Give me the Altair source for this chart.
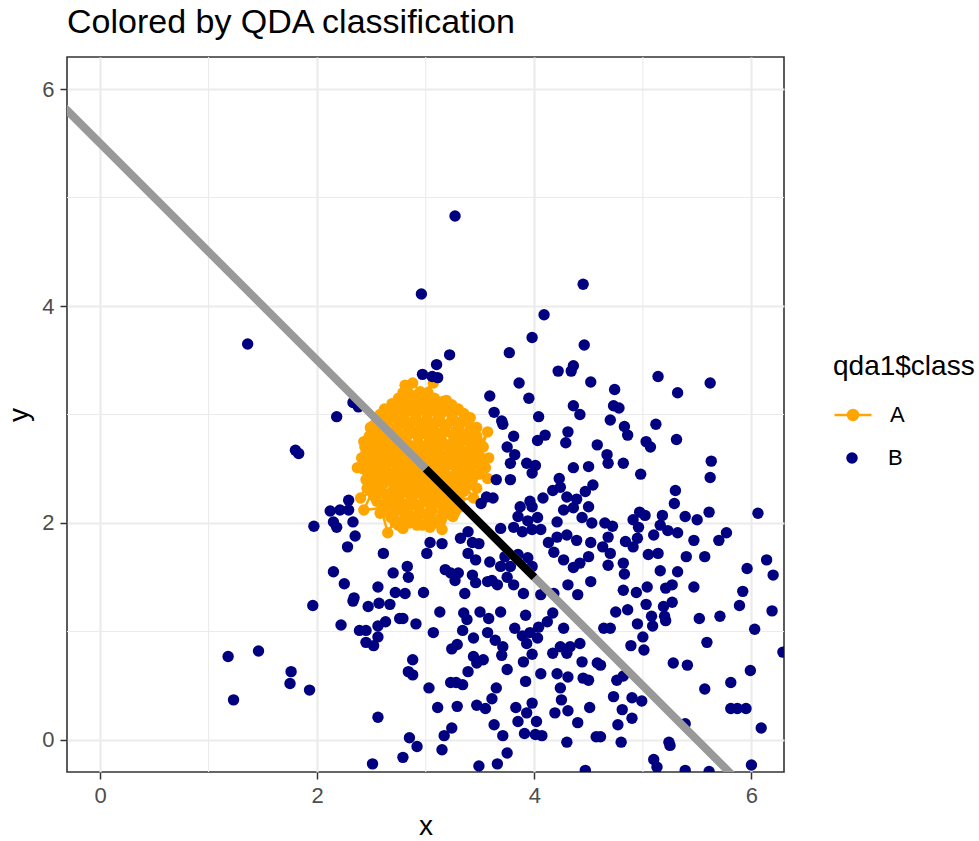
import altair as alt
import pandas as pd

# ---- class B points (navy) ----
navy_x = [1.36, 2.96, 3.27, 4.45, 4.09, 1.80, 1.83, 1.18, 1.46, 1.23, 1.76, 1.75, 1.93, 1.96, 1.97,
          2.18, 2.33, 2.38, 2.51, 2.56, 2.22, 2.39, 2.45, 2.45, 2.52, 2.56, 2.56, 2.63, 2.33, 2.47,
          2.57, 2.67, 2.76, 2.29, 2.12, 2.21, 2.29, 2.15, 2.18, 2.33, 2.35, 2.28, 2.61, 2.15, 2.25,
          2.56, 2.70, 2.72, 2.34, 3.98, 4.46, 3.77, 3.22, 3.10, 2.97, 3.06, 3.11, 4.22, 4.34, 4.36,
          4.52, 3.86, 3.59, 3.95, 4.74, 5.14, 5.32, 5.62,
          # middle region
          3.63, 3.70, 3.71, 4.04, 4.36, 4.42, 3.81, 3.75, 4.03, 4.10, 4.31, 4.29, 4.58, 3.82, 3.78,
          3.93, 4.01, 3.98, 4.36, 4.50, 4.23, 3.78, 3.65, 3.56, 3.62, 3.51, 4.17, 4.24, 4.30, 4.39,
          4.47, 4.54, 4.08, 3.96, 3.87, 3.98, 4.27, 4.36, 4.50, 3.85, 4.03, 3.94, 4.21, 4.44, 4.53,
          3.69, 3.81, 3.89, 3.98, 4.06, 4.13, 4.21, 4.30, 4.39, 4.52, 3.39, 3.43, 3.49, 3.32, 3.04,
          3.15, 3.01, 3.39, 3.46, 3.59, 3.73, 3.85, 3.94, 3.78, 4.18, 4.27, 4.36, 4.42, 4.50, 4.52,
          4.31, 2.83, 2.84, 3.18, 3.23, 3.30, 3.27, 3.43, 3.46, 3.57, 3.61, 3.69, 3.66, 3.75, 3.81,
          3.90, 3.36, 2.98, 2.81, 4.06, 4.18, 4.40, 3.98,
          # right-middle region
          4.73, 4.78, 4.70, 4.83, 4.86, 5.12, 5.03, 5.07, 5.31, 4.67, 4.68, 4.82, 4.98, 5.63, 5.62,
          5.30, 5.29, 4.97, 5.02, 5.18, 5.39, 5.50, 5.61, 6.06, 4.65, 4.72, 4.91, 4.96, 5.16, 5.23,
          5.32, 5.10, 5.77, 5.70, 5.47, 4.68, 4.84, 4.95, 4.91, 4.63, 4.70, 5.05, 5.14, 5.40, 5.57,
          4.68, 4.82, 4.83, 5.16, 5.32, 5.96, 6.14, 6.20, 4.82, 4.94, 5.04, 5.21, 5.27, 5.47, 5.92,
          # lower-middle region
          2.79, 2.91, 3.13, 3.07, 3.35, 3.38, 3.34, 3.50, 3.58, 3.69, 3.44, 3.57, 3.64, 3.71, 3.70,
          3.24, 3.29, 3.44, 3.53, 3.47, 3.92, 3.82, 3.89, 3.96, 4.03, 3.93, 4.04, 4.12, 4.17, 4.27,
          4.24, 4.33, 4.42, 4.30, 4.17, 3.98, 3.90, 4.44, 4.58, 2.88, 2.84, 2.88, 3.03, 3.11, 3.23,
          3.28, 3.34, 3.39, 3.29, 3.47, 3.55, 3.65, 3.61, 3.75, 3.92, 4.06, 4.21, 4.31, 4.24, 4.25,
          4.45, 4.50, 3.83, 3.98, 3.93, 4.02, 3.85, 4.19, 4.31, 4.40, 4.51, 3.63, 3.91, 4.01, 4.07,
          3.71, 3.24, 3.17, 2.85, 2.92, 3.15, 4.30, 4.57, 3.75, 2.79, 3.49, 3.66, 4.47,
          # lower-right region
          5.89, 6.19, 4.75, 4.86, 5.03, 5.19, 5.27, 5.08, 5.20, 5.21, 5.52, 5.71, 6.03, 4.64, 4.70,
          4.95, 5.09, 5.00, 4.89, 5.01, 5.59, 6.29, 5.28, 5.41, 4.61, 5.99, 5.81, 5.57, 4.76, 4.82,
          4.73, 4.90, 4.99, 4.81, 4.90, 4.77, 5.81, 5.87, 5.95, 6.09, 5.39, 4.61, 4.80, 5.24, 5.25,
          5.10, 5.13, 5.39, 5.61, 6.00]
navy_y = [3.65, 4.11, 4.83, 4.20, 3.92, 2.67, 2.64, 0.77, 0.82, 0.37, 0.63, 0.52, 0.46, 1.24, 1.97,
          2.98, 3.11, 3.07, -0.22, 0.21, 1.06, 1.01, 1.01, 0.90, 0.87, 0.95, 1.05, 1.09, 1.28, 1.23,
          1.26, 1.25, 1.12, 2.21, 2.11, 2.12, 2.12, 2.01, 1.96, 2.01, 1.88, 1.78, 1.72, 1.55, 1.44,
          1.41, 1.54, 1.36, 1.31, 3.71, 3.64, 3.57, 3.55, 3.46, 3.37, 3.35, 3.34, 3.40, 3.40, 3.45,
          3.30, 3.29, 3.17, 3.15, 3.23, 3.35, 3.20, 3.29,
          # middle region
          3.02, 2.94, 2.91, 2.98, 3.08, 3.00, 2.80, 2.70, 2.76, 2.81, 2.84, 2.74, 2.72, 2.63, 2.55,
          2.55, 2.53, 2.46, 2.51, 2.52, 2.41, 2.40, 2.40, 2.24, 2.23, 2.18, 2.30, 2.33, 2.24, 2.22,
          2.29, 2.35, 2.23, 2.20, 2.15, 2.15, 2.12, 2.14, 2.15, 2.06, 2.05, 2.02, 2.01, 2.05, 2.00,
          1.95, 1.96, 1.92, 1.94, 1.94, 1.82, 1.87, 1.89, 1.84, 1.82, 1.92, 1.82, 1.81, 1.86, 1.82,
          1.81, 1.72, 1.72, 1.66, 1.64, 1.69, 1.71, 1.68, 1.60, 1.73, 1.66, 1.59, 1.63, 1.69, 1.46,
          1.43, 1.60, 1.50, 1.57, 1.54, 1.54, 1.47, 1.52, 1.45, 1.46, 1.47, 1.60, 1.43, 1.50, 1.43,
          1.35, 1.35, 1.36, 1.35, 1.34, 1.35, 1.34, 1.60,
          # right-middle region
          3.08, 3.06, 2.95, 2.89, 2.81, 2.91, 2.75, 2.70, 2.77, 2.63, 2.55, 2.55, 2.45, 2.57, 2.42,
          2.30, 2.18, 2.10, 2.07, 2.07, 2.06, 2.03, 2.10, 2.09, 2.00, 1.97, 2.03, 1.96, 1.98, 1.93,
          1.91, 1.89, 1.91, 1.84, 1.84, 1.87, 1.83, 1.86, 1.78, 1.78, 1.72, 1.71, 1.72, 1.69, 1.69,
          1.61, 1.63, 1.53, 1.56, 1.55, 1.58, 1.66, 1.52, 1.38, 1.36, 1.41, 1.40, 1.43, 1.41, 1.37,
          # lower-middle region
          1.12, 1.07, 1.18, 0.99, 1.17, 1.11, 1.01, 1.18, 1.12, 1.18, 0.94, 0.99, 0.92, 0.86, 0.78,
          0.84, 0.88, 0.77, 0.74, 0.71, 1.15, 1.03, 0.96, 0.99, 0.94, 0.89, 1.04, 1.09, 1.17, 1.03,
          0.86, 0.86, 0.89, 0.80, 0.80, 0.79, 0.72, 0.72, 0.71, 0.74, 0.63, 0.60, 0.48, 0.30, 0.53,
          0.53, 0.51, 0.63, 0.31, 0.32, 0.29, 0.48, 0.38, 0.65, 0.54, 0.61, 0.61, 0.58, 0.48, 0.37,
          0.57, 0.55, 0.30, 0.34, 0.25, 0.17, 0.17, 0.25, 0.27, 0.16, 0.30, 0.14, 0.06, 0.05, 0.04,
          0.04, 0.11, 0.04, 0.02, -0.06, -0.09, -0.02, 0.03, -0.12, -0.16, -0.24, -0.22, -0.28,
          # lower-right region
          1.24, 1.19, 1.18, 1.20, 1.25, 1.23, 1.27, 1.14, 1.14, 1.10, 1.12, 1.14, 1.02, 1.03, 1.03,
          1.07, 1.05, 0.95, 0.87, 0.83, 0.90, 0.81, 0.71, 0.69, 0.69, 0.64, 0.53, 0.47, 0.55, 0.59,
          0.40, 0.39, 0.36, 0.28, 0.20, 0.14, 0.29, 0.29, 0.29, 0.11, 0.15, 0.03, -0.02, -0.02, -0.05,
          -0.18, -0.25, -0.28, -0.29, -0.23]

# ---- class A points (orange), in path order ----
orange_x = [2.75, 2.86, 2.97, 3.08, 3.19, 2.47,
            2.68, 2.80, 2.91, 3.02, 3.13, 3.57,
            3.46, 3.34, 3.23, 3.11, 3.00, 2.89, 2.78, 2.66, 2.55, 2.44, 2.81,
            2.52, 2.64, 2.75, 2.86, 2.97, 3.08, 3.20, 3.31, 2.37,
            2.55, 2.66, 2.78, 2.90, 3.01, 3.12, 3.24, 3.36, 3.15,
            3.48, 3.38, 3.27, 3.15, 3.04, 2.93, 2.82, 2.70, 2.59, 2.48, 3.07,
            2.60, 2.71, 2.82, 2.93, 3.05, 3.16, 3.27, 2.43,
            3.49, 3.37, 3.26, 3.14, 3.03, 2.92, 2.80, 2.69, 2.58, 2.47, 3.53,
            2.62, 2.74, 2.85, 2.96, 3.07, 3.18, 3.30, 2.65,
            2.45, 2.56, 2.67, 2.79, 2.90, 3.01, 3.12, 3.24, 3.35, 3.47, 3.25,
            3.40, 3.29, 3.17, 3.06, 2.95, 2.84, 2.72, 2.61, 2.50, 3.41,
            2.50, 2.61, 2.73, 2.84, 2.95, 3.06, 3.17, 3.29, 3.41,
            2.40, 2.88, 3.55, 2.58, 3.16, 2.46, 3.47, 2.79, 3.44, 2.43, 2.92, 3.57, 2.56,
            3.25, 2.64, 3.58, 2.79, 2.72, 3.47, 2.49, 3.04, 2.98, 3.32, 2.92, 2.75, 2.97,
            2.69, 2.80, 2.91, 3.02, 3.13, 3.24,
            2.62, 2.73, 2.84, 2.95, 3.06, 3.17, 3.27,
            2.52, 2.63, 2.74, 2.85, 2.96, 3.07, 3.18, 3.30, 3.41,
            2.49, 2.58, 2.69, 2.80, 2.91, 3.02, 3.13, 3.24, 3.35,
            2.44, 2.54, 2.65, 2.76, 2.87, 2.98, 3.09, 3.20, 3.31, 3.42, 3.52,
            2.42, 2.52, 2.63, 2.74, 2.85, 2.96, 3.07, 3.18, 3.29, 3.40, 3.51,
            2.58, 2.69, 2.80, 2.91, 3.02, 3.13, 3.24, 3.35,
            2.55, 2.66, 2.77, 2.88, 2.99, 3.10, 3.21, 3.31,
            2.48, 2.59, 2.70, 2.81, 2.92, 3.03, 3.14, 3.25, 3.36, 3.47,
            2.45, 2.55, 2.66, 2.77, 2.88, 2.99, 3.10, 3.21, 3.32, 3.43,
            2.41, 2.51, 2.62, 2.73, 2.84, 2.95, 3.06, 3.17, 3.28, 3.39, 3.50,
            2.72, 2.85, 3.08, 2.84, 2.95, 3.02]
orange_y = [3.15, 3.16, 3.14, 3.15, 3.13, 2.58,
            2.05, 2.04, 2.06, 2.05, 2.04, 2.84,
            2.55, 2.56, 2.54, 2.55, 2.56, 2.54, 2.55, 2.56, 2.54, 2.55, 3.27,
            2.25, 2.26, 2.24, 2.25, 2.26, 2.24, 2.25, 2.26, 2.51,
            2.95, 2.96, 2.94, 2.95, 2.96, 2.94, 2.95, 2.96, 1.94,
            2.75, 2.76, 2.74, 2.75, 2.76, 2.74, 2.75, 2.76, 2.74, 2.75, 3.29,
            2.15, 2.16, 2.14, 2.15, 2.16, 2.14, 2.15, 2.75,
            2.45, 2.46, 2.44, 2.45, 2.46, 2.44, 2.45, 2.46, 2.44, 2.45, 2.70,
            3.05, 3.06, 3.04, 3.05, 3.06, 3.04, 3.05, 1.91,
            2.65, 2.66, 2.64, 2.65, 2.66, 2.64, 2.65, 2.66, 2.64, 2.65, 3.04,
            2.35, 2.36, 2.34, 2.35, 2.36, 2.34, 2.35, 2.36, 2.34, 2.97,
            2.85, 2.86, 2.84, 2.85, 2.86, 2.84, 2.85, 2.86, 2.84,
            2.23, 3.29, 2.51, 2.09, 3.12, 2.32, 2.88, 3.20, 2.23, 2.12, 3.18, 2.41, 2.80,
            2.06, 2.98, 2.60, 1.95, 3.07, 2.32, 2.88, 1.96, 3.11, 2.15, 1.98, 1.98, 1.98,
            3.10, 3.11, 3.09, 3.10, 3.11, 3.09,
            2.10, 2.11, 2.09, 2.10, 2.11, 2.09, 2.10,
            2.90, 2.91, 2.89, 2.90, 2.91, 2.89, 2.90, 2.91, 2.89,
            2.30, 2.31, 2.29, 2.30, 2.31, 2.29, 2.30, 2.31, 2.29,
            2.70, 2.71, 2.69, 2.70, 2.71, 2.69, 2.70, 2.71, 2.69, 2.70, 2.71,
            2.50, 2.51, 2.49, 2.50, 2.51, 2.49, 2.50, 2.51, 2.49, 2.50, 2.51,
            3.00, 3.01, 2.99, 3.00, 3.01, 2.99, 3.00, 3.01,
            2.20, 2.21, 2.19, 2.20, 2.21, 2.19, 2.20, 2.21,
            2.80, 2.81, 2.79, 2.80, 2.81, 2.79, 2.80, 2.81, 2.79, 2.80,
            2.40, 2.41, 2.39, 2.40, 2.41, 2.39, 2.40, 2.41, 2.39, 2.40,
            2.60, 2.61, 2.59, 2.60, 2.61, 2.59, 2.60, 2.61, 2.59, 2.60, 2.61,
            2.00, 2.00, 2.00, 3.20, 3.21, 3.20]

# decision boundary line (intercept 5.5, slope -1) and the highlighted segment
abline_x = [-0.5, 6.5]
abline_y = [6.0, -1.0]
seg_x = [3.0, 4.0]
seg_y = [2.5, 1.5]

class_a, class_b = "A", "B"
color_a, color_b = "#FFA500", "#000080"
major_ticks = [0, 2, 4, 6]
minor_ticks = [1, 3, 5]
x_domain = [-0.304, 6.30]
y_domain = [-0.295, 6.295]

FONT = "Liberation Sans"

a_df = pd.DataFrame({"x": orange_x, "y": orange_y, "cls": class_a, "i": range(len(orange_x))})
b_df = pd.DataFrame({"x": navy_x, "y": navy_y, "cls": class_b})
abline_df = pd.DataFrame({"x": abline_x, "y": abline_y})
seg_df = pd.DataFrame({"x": seg_x, "y": seg_y})
minor_df = pd.DataFrame({"v": minor_ticks})

xs = alt.Scale(domain=x_domain, nice=False, zero=False)
ys = alt.Scale(domain=y_domain, nice=False, zero=False)

axis_common = dict(
    values=major_ticks, format="d", grid=True, gridColor="#EBEBEB", gridWidth=2.2,
    domain=False, ticks=True, tickColor="#333333", tickWidth=1.5, tickSize=7,
    labelFont=FONT, labelFontSize=22, labelColor="#4D4D4D",
    titleFont=FONT, titleFontSize=28, titleFontWeight="normal", titleColor="black",
)
x_axis = alt.Axis(title="x", labelPadding=6, titlePadding=6, **axis_common)
y_axis = alt.Axis(title="y", labelPadding=6, titlePadding=8, **axis_common)

minor_v = alt.Chart(minor_df).mark_rule(color="#EBEBEB", strokeWidth=1.1).encode(
    x=alt.X("v:Q", scale=xs, axis=x_axis))
minor_h = alt.Chart(minor_df).mark_rule(color="#EBEBEB", strokeWidth=1.1).encode(
    y=alt.Y("v:Q", scale=ys, axis=y_axis))

path_a = alt.Chart(a_df).mark_line(color=color_a, strokeWidth=2.5, clip=True).encode(
    x=alt.X("x:Q", scale=xs), y=alt.Y("y:Q", scale=ys), order=alt.Order("i:Q"))

pathA = "M-1,0L1,0M-0.27,0A0.27,0.27,0,1,1,0.27,0A0.27,0.27,0,1,1,-0.27,0Z"

legend_a = alt.Legend(
    title="qda1$class", orient="none", legendX=766, legendY=296, padding=0,
    titleFont=FONT, titleFontSize=28, titleFontWeight="normal", titleColor="black",
    titlePadding=14, labelFont=FONT, labelFontSize=22, labelColor="black",
    symbolType=pathA, symbolSize=1369, symbolStrokeWidth=2.5,
    symbolFillColor=color_a, symbolStrokeColor=color_a, symbolOpacity=1, labelOffset=17,
)
legend_b = alt.Legend(
    title=None, orient="none", legendX=774, legendY=390, padding=0,
    labelFont=FONT, labelFontSize=22, labelColor="black",
    symbolType="circle", symbolSize=133, symbolStrokeWidth=0,
    symbolFillColor=color_b, symbolOpacity=1, labelOffset=25,
)

points_a = alt.Chart(a_df).mark_circle(size=130, opacity=1, clip=True).encode(
    x=alt.X("x:Q", scale=xs), y=alt.Y("y:Q", scale=ys),
    color=alt.Color("cls:N", scale=alt.Scale(domain=[class_a], range=[color_a]), legend=legend_a),
)
points_b = alt.Chart(b_df).mark_circle(size=130, opacity=1, clip=True).encode(
    x=alt.X("x:Q", scale=xs), y=alt.Y("y:Q", scale=ys),
    color=alt.Color("cls:N", scale=alt.Scale(domain=[class_b], range=[color_b]), legend=legend_b),
)

abline = alt.Chart(abline_df).mark_line(color="#999999", strokeWidth=8, clip=True).encode(
    x=alt.X("x:Q", scale=xs), y=alt.Y("y:Q", scale=ys))
seg = alt.Chart(seg_df).mark_line(color="black", strokeWidth=8, clip=True).encode(
    x=alt.X("x:Q", scale=xs), y=alt.Y("y:Q", scale=ys))

chart = alt.layer(minor_v, minor_h, path_a, points_a, points_b, abline, seg).resolve_scale(
    color="independent"
).properties(
    width=717, height=715, background="white",
    title=alt.TitleParams("Colored by QDA classification", anchor="start", frame="group",
                          font=FONT, fontSize=34, fontWeight="normal", color="black", offset=16),
    padding={"left": 67, "top": 57, "right": 195, "bottom": 69},
    autosize=alt.AutoSizeParams(type="none"),
).configure_view(stroke="#333333", strokeWidth=1.6)

chart.save("out.html", embed_options={"renderer": "svg", "actions": False})
